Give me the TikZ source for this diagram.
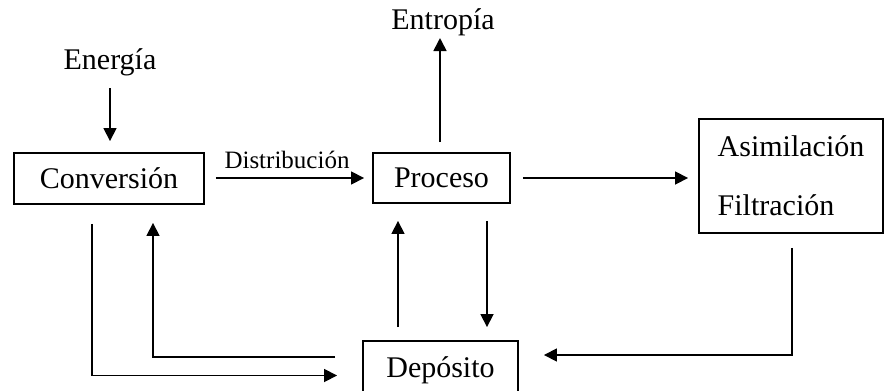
\documentclass[tikz,border=0pt]{standalone}
\usepackage{fontspec}
\setmainfont{Liberation Serif}
\usetikzlibrary{arrows.meta,calc}
\begin{document}
\begin{tikzpicture}[x=0.5pt,y=-0.5pt,
  box/.style={draw,line width=0.95pt,inner sep=0pt,font=\fontsize{15}{18}\selectfont},
  lbl/.style={inner sep=0pt,font=\fontsize{15}{18}\selectfont},
  arr/.style={line width=0.85pt,-{Triangle[length=6.5pt,width=6.5pt]}}]
\useasboundingbox (0,0) rectangle (884,391);
\begin{scope}
\clip (0,0) rectangle (884,391);
% blocks
\node[box,minimum width=95pt,minimum height=25.5pt] (conv) at (109,178.5) {Conversión};
\node[box,minimum width=68.5pt,minimum height=25pt] (proc) at (441.5,178) {Proceso};
\node[box,minimum width=92pt,minimum height=57pt,align=left] (asim) at (791,176)
  {Asimilación\\[11.5pt]Filtración};
\node[box,minimum width=77.5pt,minimum height=29.5pt] (dep) at (440.5,370.5) {Depósito};
\end{scope}
% free labels
\node[lbl] (energia) at (110,62) {Energía};
\node[lbl] (entropia) at (443,22) {Entropía};
\node[inner sep=0pt,font=\fontsize{12.5}{15}\selectfont] (distr) at (287,160) {Distribución};
% inputs and outputs
\draw[arr,shorten <=13pt,shorten >=5.5pt] (energia.center) -- (energia.center |- conv.north);
\draw[arr,shorten <=5pt,shorten >=1pt] ([xshift=-0.75pt]proc.north) -- ([xshift=-0.75pt]proc.north |- entropia.south);
% main flow
\draw[arr,shorten <=5.5pt,shorten >=4pt] (conv.east |- 0,178) -- (proc.west |- 0,178);
\draw[arr,shorten <=6pt,shorten >=5pt] (proc.east) -- (proc.east -| asim.west);
% loops through the store
\draw[arr] ([xshift=-8.5pt,yshift=-9.5pt]conv.south) |- ([xshift=-12.5pt,yshift=-2.5pt]dep.west);
\draw[arr] ([xshift=-13.5pt,yshift=6.75pt]dep.west) -| ([xshift=22pt,yshift=-9pt]conv.south);
\draw[arr] ([xshift=-21.25pt,yshift=6.5pt]dep.north) -- ([xshift=-21.75pt,yshift=-8.5pt]proc.south);
\draw[arr] ([xshift=22.75pt,yshift=-8.5pt]proc.south) -- ([xshift=23.25pt,yshift=6.5pt]dep.north);
\draw[arr] ([xshift=0.5pt,yshift=-7pt]asim.south) |- ([xshift=12.5pt,yshift=7.75pt]dep.east);
\end{tikzpicture}
\end{document}
